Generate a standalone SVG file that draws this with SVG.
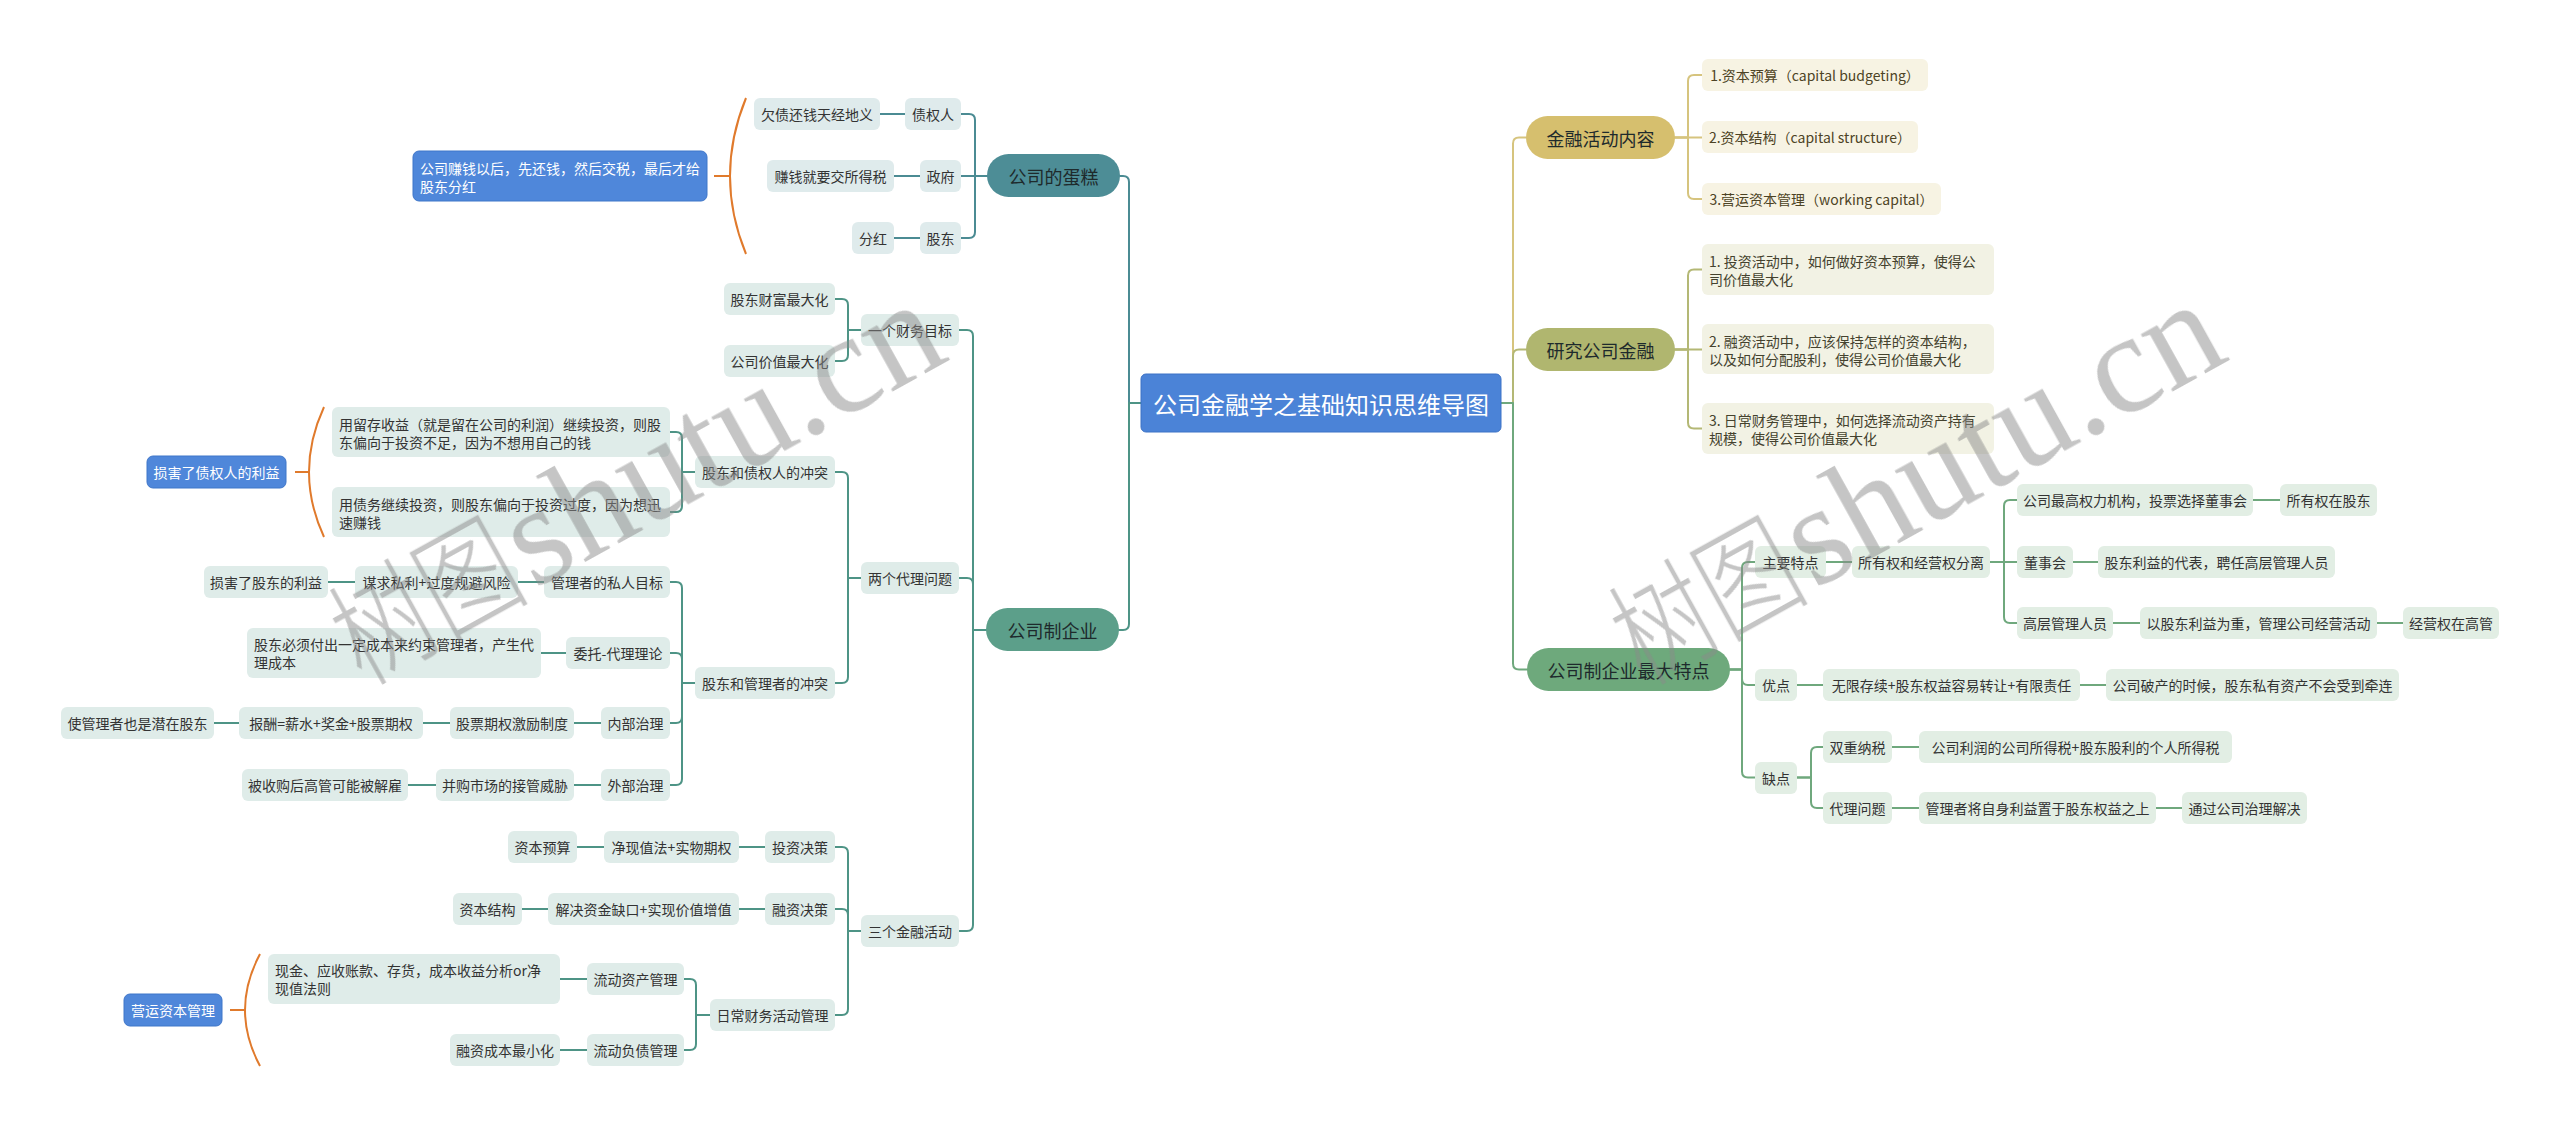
<svg xmlns="http://www.w3.org/2000/svg" width="2560" height="1126" viewBox="0 0 2560 1126">
<style>
text{font-family:"Noto Sans CJK SC","Microsoft YaHei",sans-serif;font-size:14px;fill:#333;text-anchor:middle;dominant-baseline:central}
.tl{text-anchor:start}
.l1{font-size:18px;fill:#1e2a2c}
.rt{font-size:24px;fill:#fff}
.wt{fill:#fff}
.c{fill:none;stroke-width:2;stroke-linecap:round;stroke-linejoin:round}
.ct{stroke:#4b8b93}.cg{stroke:#4e9486}.cy{stroke:#d6c47e}.co{stroke:#b4b875}.cn{stroke:#6fa87d}
.br{fill:none;stroke:#e07a2c;stroke-width:2}
.bt{fill:#dfebec}.bg{fill:#dfece9}.by{fill:#f7f3e3}.bo{fill:#f2f2e4}.bn{fill:#e2eee4}
.blue{fill:#4f87da;stroke:#3f76c9;stroke-width:1}
.wm{fill:#8a8a8a;text-anchor:start;dominant-baseline:auto}
.wc{font-family:"Noto Sans CJK SC",sans-serif;font-size:118px;font-weight:300}
.we{font-family:"Liberation Serif",serif;font-size:142px}
</style>
<rect width="2560" height="1126" fill="#fff"/>
<g id="connectors">
<g class="c ct">
<path d="M1120 176 H1123 Q1129 176 1129 182 V403 H1141"/>
<path d="M961 114 H969 Q975 114 975 120 V176 H987"/>
<path d="M961 176 H987"/>
<path d="M961 238 H969 Q975 238 975 232 V176 H987"/>
<path d="M880 114 H905 M894 176 H920 M894 238 H920"/>
</g>
<g class="c cg">
<path d="M1119 630 H1123 Q1129 630 1129 624 V403 H1141"/>
<path d="M959 330 H967 Q973 330 973 336 V630 H986"/>
<path d="M959 578 H967 Q973 578 973 584 V630 H986"/>
<path d="M959 931 H967 Q973 931 973 925 V630 H986"/>
<path d="M835 299 H842 Q848 299 848 305 V330 H861"/>
<path d="M835 361 H842 Q848 361 848 355 V330 H861"/>
<path d="M835 472 H842 Q848 472 848 478 V578 H861"/>
<path d="M835 683 H842 Q848 683 848 677 V578 H861"/>
<path d="M670 432 H676 Q682 432 682 438 V472 H695"/>
<path d="M670 512 H676 Q682 512 682 506 V472 H695"/>
<path d="M670 582 H676 Q682 582 682 588 V683 H695"/>
<path d="M670 653 H676 Q682 653 682 659 V683 H695"/>
<path d="M670 723 H676 Q682 723 682 717 V683 H695"/>
<path d="M670 785 H676 Q682 785 682 779 V683 H695"/>
<path d="M835 847 H842 Q848 847 848 853 V931 H861"/>
<path d="M835 909 H842 Q848 909 848 915 V931 H861"/>
<path d="M835 1015 H842 Q848 1015 848 1009 V931 H861"/>
<path d="M684 979 H690 Q696 979 696 985 V1015 H710"/>
<path d="M684 1050 H690 Q696 1050 696 1044 V1015 H710"/>
<path d="M328 582 H355 M518 582 H544 M541 653 H566 M214 723 H239 M423 723 H450 M574 723 H601 M408 785 H436 M574 785 H601 M577 847 H604 M739 847 H765 M522 909 H548 M739 909 H765 M560 979 H587 M560 1050 H587"/>
</g>
<g class="c cy">
<path d="M1501 403 H1513 V143.5 Q1513 137.5 1519 137.5 H1526"/>
<path d="M1675 137.5 H1688 V81 Q1688 75 1694 75 H1702"/>
<path d="M1675 137.5 H1702"/>
<path d="M1675 137.5 H1688 V193 Q1688 199 1694 199 H1702"/>
</g>
<g class="c co">
<path d="M1501 403 H1513 V355.5 Q1513 349.5 1519 349.5 H1526"/>
<path d="M1675 349.5 H1688 V275.5 Q1688 269.5 1694 269.5 H1702"/>
<path d="M1675 349.5 H1702"/>
<path d="M1675 349.5 H1688 V422.5 Q1688 428.5 1694 428.5 H1702"/>
</g>
<g class="c cn">
<path d="M1501 403 H1513 V663.5 Q1513 669.5 1519 669.5 H1527"/>
<path d="M1730 669.5 H1742 V568 Q1742 562 1748 562 H1755"/>
<path d="M1730 669.5 H1742 V679 Q1742 685 1748 685 H1755"/>
<path d="M1730 669.5 H1742 V771.5 Q1742 777.5 1748 777.5 H1755"/>
<path d="M1990 562 H2004 V506 Q2004 500 2010 500 H2017"/>
<path d="M1990 562 H2017"/>
<path d="M1990 562 H2004 V617 Q2004 623 2010 623 H2017"/>
<path d="M1797 777.5 H1811 V753 Q1811 747 1817 747 H1823"/>
<path d="M1797 777.5 H1811 V802 Q1811 808 1817 808 H1823"/>
<path d="M1826 562 H1852 M2253 500 H2280 M2073 562 H2098 M2113 623 H2140 M2377 623 H2403 M1797 685 H1823 M2080 685 H2106 M1892 747 H1919 M1892 808 H1919 M2156 808 H2182"/>
</g>
<g>
<path class="br" d="M746 98 Q714 176 746 254 M714 176 H730"/>
<path class="br" d="M324 407 Q294 472 324 537 M295 472 H309"/>
<path class="br" d="M260 954 Q230 1010 260 1066 M230 1010 H245"/>
</g>
</g>

<g id="root"><rect x="1141" y="374" width="360" height="58" rx="5" fill="#4b83d7" stroke="#3d72c6"/><text class="rt" x="1321" y="403">公司金融学之基础知识思维导图</text></g>

<g id="n-dangao"><rect x="987" y="154" width="133" height="43" rx="21.5" fill="#4d8d96"/><text class="l1" x="1053.5" y="175.5">公司的蛋糕</text></g>
<g id="n-zqr"><rect class="bt" x="905" y="98" width="56" height="32" rx="6"/><text x="933" y="114">债权人</text></g>
<g id="n-zf"><rect class="bt" x="920" y="160" width="41" height="32" rx="6"/><text x="940.5" y="176">政府</text></g>
<g id="n-gd"><rect class="bt" x="920" y="222" width="41" height="32" rx="6"/><text x="940.5" y="238">股东</text></g>
<g id="n-qz"><rect class="bt" x="754" y="98" width="126" height="32" rx="6"/><text x="817" y="114">欠债还钱天经地义</text></g>
<g id="n-zq"><rect class="bt" x="767" y="160" width="127" height="32" rx="6"/><text x="830.5" y="176">赚钱就要交所得税</text></g>
<g id="n-fh"><rect class="bt" x="852" y="222" width="42" height="32" rx="6"/><text x="873" y="238">分红</text></g>
<g id="n-note1"><rect class="blue" x="413" y="151" width="294" height="50" rx="6"/><text class="wt tl" x="420" y="168">公司赚钱以后，先还钱，然后交税，最后才给</text><text class="wt tl" x="420" y="186">股东分红</text></g>

<g id="n-gszqy"><rect x="986" y="608" width="133" height="43" rx="21.5" fill="#5c9f8a"/><text class="l1" x="1052.5" y="629.5">公司制企业</text></g>
<g id="n-cwmb"><rect class="bg" x="861" y="314" width="98" height="32" rx="6"/><text x="910" y="330">一个财务目标</text></g>
<g id="n-dlwt"><rect class="bg" x="861" y="562" width="98" height="32" rx="6"/><text x="910" y="578">两个代理问题</text></g>
<g id="n-jrhd"><rect class="bg" x="861" y="915" width="98" height="32" rx="6"/><text x="910" y="931">三个金融活动</text></g>
<g id="n-gdcf"><rect class="bg" x="724" y="283" width="111" height="32" rx="6"/><text x="779.5" y="299">股东财富最大化</text></g>
<g id="n-gsjz"><rect class="bg" x="724" y="345" width="111" height="32" rx="6"/><text x="779.5" y="361">公司价值最大化</text></g>
<g id="n-zqct"><rect class="bg" x="695" y="456" width="140" height="32" rx="6"/><text x="765" y="472">股东和债权人的冲突</text></g>
<g id="n-glct"><rect class="bg" x="695" y="667" width="140" height="32" rx="6"/><text x="765" y="683">股东和管理者的冲突</text></g>
<g id="n-lc"><rect class="bg" x="332" y="407" width="338" height="50" rx="6"/><text class="tl" x="339" y="423.5">用留存收益（就是留在公司的利润）继续投资，则股</text><text class="tl" x="339" y="441.5">东偏向于投资不足，因为不想用自己的钱</text></g>
<g id="n-zw"><rect class="bg" x="332" y="487" width="338" height="50" rx="6"/><text class="tl" x="339" y="503.5">用债务继续投资，则股东偏向于投资过度，因为想迅</text><text class="tl" x="339" y="521.5">速赚钱</text></g>
<g id="n-note2"><rect class="blue" x="147" y="456" width="139" height="32" rx="6"/><text class="wt" x="216.5" y="472">损害了债权人的利益</text></g>
<g id="n-srmb"><rect class="bg" x="544" y="566" width="126" height="32" rx="6"/><text x="607" y="582">管理者的私人目标</text></g>
<g id="n-mq"><rect class="bg" x="355" y="566" width="163" height="32" rx="6"/><text x="436.5" y="582">谋求私利+过度规避风险</text></g>
<g id="n-shgd"><rect class="bg" x="204" y="566" width="124" height="32" rx="6"/><text x="266" y="582">损害了股东的利益</text></g>
<g id="n-wt"><rect class="bg" x="566" y="637" width="104" height="32" rx="6"/><text x="618" y="653">委托-代理理论</text></g>
<g id="n-cb"><rect class="bg" x="247" y="628" width="294" height="50" rx="6"/><text class="tl" x="254" y="644">股东必须付出一定成本来约束管理者，产生代</text><text class="tl" x="254" y="662">理成本</text></g>
<g id="n-nbzl"><rect class="bg" x="601" y="707" width="69" height="32" rx="6"/><text x="635.5" y="723">内部治理</text></g>
<g id="n-gpqq"><rect class="bg" x="450" y="707" width="124" height="32" rx="6"/><text x="512" y="723">股票期权激励制度</text></g>
<g id="n-bc"><rect class="bg" x="239" y="707" width="184" height="32" rx="6"/><text x="331" y="723">报酬=薪水+奖金+股票期权</text></g>
<g id="n-qzgd"><rect class="bg" x="61" y="707" width="153" height="32" rx="6"/><text x="137.5" y="723">使管理者也是潜在股东</text></g>
<g id="n-wbzl"><rect class="bg" x="601" y="769" width="69" height="32" rx="6"/><text x="635.5" y="785">外部治理</text></g>
<g id="n-bg"><rect class="bg" x="436" y="769" width="138" height="32" rx="6"/><text x="505" y="785">并购市场的接管威胁</text></g>
<g id="n-jg"><rect class="bg" x="242" y="769" width="166" height="32" rx="6"/><text x="325" y="785">被收购后高管可能被解雇</text></g>
<g id="n-tzjc"><rect class="bg" x="765" y="831" width="70" height="32" rx="6"/><text x="800" y="847">投资决策</text></g>
<g id="n-jxz"><rect class="bg" x="604" y="831" width="135" height="32" rx="6"/><text x="671.5" y="847">净现值法+实物期权</text></g>
<g id="n-zbys"><rect class="bg" x="508" y="831" width="69" height="32" rx="6"/><text x="542.5" y="847">资本预算</text></g>
<g id="n-rzjc"><rect class="bg" x="765" y="893" width="70" height="32" rx="6"/><text x="800" y="909">融资决策</text></g>
<g id="n-jj"><rect class="bg" x="548" y="893" width="191" height="32" rx="6"/><text x="643.5" y="909">解决资金缺口+实现价值增值</text></g>
<g id="n-zbjg"><rect class="bg" x="453" y="893" width="69" height="32" rx="6"/><text x="487.5" y="909">资本结构</text></g>
<g id="n-rc"><rect class="bg" x="710" y="999" width="125" height="32" rx="6"/><text x="772.5" y="1015">日常财务活动管理</text></g>
<g id="n-ldzc"><rect class="bg" x="587" y="963" width="97" height="32" rx="6"/><text x="635.5" y="979">流动资产管理</text></g>
<g id="n-xj"><rect class="bg" x="268" y="954" width="292" height="50" rx="6"/><text class="tl" x="275" y="970">现金、应收账款、存货，成本收益分析or净</text><text class="tl" x="275" y="988">现值法则</text></g>
<g id="n-ldfz"><rect class="bg" x="587" y="1034" width="97" height="32" rx="6"/><text x="635.5" y="1050">流动负债管理</text></g>
<g id="n-rzcb"><rect class="bg" x="450" y="1034" width="110" height="32" rx="6"/><text x="505" y="1050">融资成本最小化</text></g>
<g id="n-note3"><rect class="blue" x="124" y="994" width="98" height="32" rx="6"/><text class="wt" x="173" y="1010">营运资本管理</text></g>

<g id="n-jrnr"><rect x="1526" y="116" width="149" height="43" rx="21.5" fill="#d6bf6e"/><text class="l1" x="1600.5" y="137.5">金融活动内容</text></g>
<g id="n-y1"><rect class="by" x="1702" y="59" width="226" height="32" rx="6"/><text x="1815" y="75" style="fill:#4d4325">1.资本预算（capital budgeting）</text></g>
<g id="n-y2"><rect class="by" x="1702" y="121" width="216" height="32" rx="6"/><text x="1810" y="137" style="fill:#4d4325">2.资本结构（capital structure）</text></g>
<g id="n-y3"><rect class="by" x="1702" y="183" width="239" height="32" rx="6"/><text x="1821.5" y="199" style="fill:#4d4325">3.营运资本管理（working capital）</text></g>
<g id="n-yjgs"><rect x="1526" y="328" width="149" height="43" rx="21.5" fill="#b0b66f"/><text class="l1" x="1600.5" y="349.5">研究公司金融</text></g>
<g id="n-o1"><rect class="bo" x="1702" y="244" width="292" height="51" rx="6"/><text class="tl" x="1709" y="261" style="fill:#44422e">1. 投资活动中，如何做好资本预算，使得公</text><text class="tl" x="1709" y="279" style="fill:#44422e">司价值最大化</text></g>
<g id="n-o2"><rect class="bo" x="1702" y="324" width="292" height="50" rx="6"/><text class="tl" x="1709" y="340.5" style="fill:#44422e">2. 融资活动中，应该保持怎样的资本结构，</text><text class="tl" x="1709" y="358.5" style="fill:#44422e">以及如何分配股利，使得公司价值最大化</text></g>
<g id="n-o3"><rect class="bo" x="1702" y="403" width="292" height="51" rx="6"/><text class="tl" x="1709" y="420" style="fill:#44422e">3. 日常财务管理中，如何选择流动资产持有</text><text class="tl" x="1709" y="438" style="fill:#44422e">规模，使得公司价值最大化</text></g>

<g id="n-tedian"><rect x="1527" y="648" width="203" height="43" rx="21.5" fill="#6ea97c"/><text class="l1" x="1628.5" y="669.5">公司制企业最大特点</text></g>
<g id="n-zytd"><rect class="bn" x="1755" y="546" width="71" height="32" rx="6"/><text x="1790.5" y="562">主要特点</text></g>
<g id="n-syq"><rect class="bn" x="1852" y="546" width="138" height="32" rx="6"/><text x="1921" y="562">所有权和经营权分离</text></g>
<g id="n-zg"><rect class="bn" x="2017" y="484" width="236" height="32" rx="6"/><text x="2135" y="500">公司最高权力机构，投票选择董事会</text></g>
<g id="n-syqgd"><rect class="bn" x="2280" y="484" width="97" height="32" rx="6"/><text x="2328.5" y="500">所有权在股东</text></g>
<g id="n-dsh"><rect class="bn" x="2017" y="546" width="56" height="32" rx="6"/><text x="2045" y="562">董事会</text></g>
<g id="n-db"><rect class="bn" x="2098" y="546" width="237" height="32" rx="6"/><text x="2216.5" y="562">股东利益的代表，聘任高层管理人员</text></g>
<g id="n-gc"><rect class="bn" x="2017" y="607" width="96" height="32" rx="6"/><text x="2065" y="623">高层管理人员</text></g>
<g id="n-yg"><rect class="bn" x="2140" y="607" width="237" height="32" rx="6"/><text x="2258.5" y="623">以股东利益为重，管理公司经营活动</text></g>
<g id="n-jyq"><rect class="bn" x="2403" y="607" width="96" height="32" rx="6"/><text x="2451" y="623">经营权在高管</text></g>
<g id="n-yd"><rect class="bn" x="1755" y="669" width="42" height="32" rx="6"/><text x="1776" y="685">优点</text></g>
<g id="n-wx"><rect class="bn" x="1823" y="669" width="257" height="32" rx="6"/><text x="1951.5" y="685">无限存续+股东权益容易转让+有限责任</text></g>
<g id="n-pc"><rect class="bn" x="2106" y="669" width="293" height="32" rx="6"/><text x="2252.5" y="685">公司破产的时候，股东私有资产不会受到牵连</text></g>
<g id="n-qd"><rect class="bn" x="1755" y="762" width="42" height="32" rx="6"/><text x="1776" y="778">缺点</text></g>
<g id="n-scns"><rect class="bn" x="1823" y="731" width="69" height="32" rx="6"/><text x="1857.5" y="747">双重纳税</text></g>
<g id="n-sds"><rect class="bn" x="1919" y="731" width="313" height="32" rx="6"/><text x="2075.5" y="747">公司利润的公司所得税+股东股利的个人所得税</text></g>
<g id="n-dl"><rect class="bn" x="1823" y="792" width="69" height="32" rx="6"/><text x="1857.5" y="808">代理问题</text></g>
<g id="n-zs"><rect class="bn" x="1919" y="792" width="237" height="32" rx="6"/><text x="2037.5" y="808">管理者将自身利益置于股东权益之上</text></g>
<g id="n-zl"><rect class="bn" x="2182" y="792" width="125" height="32" rx="6"/><text x="2244.5" y="808">通过公司治理解决</text></g>

<g id="watermark" opacity="0.5">
<g transform="translate(356,689) rotate(-29)"><text class="wm wc" x="8" y="0" textLength="192" lengthAdjust="spacingAndGlyphs">树图</text><text class="wm we" x="204" y="0">shutu.cn</text></g>
<g transform="translate(1636,689) rotate(-29)"><text class="wm wc" x="8" y="0" textLength="192" lengthAdjust="spacingAndGlyphs">树图</text><text class="wm we" x="204" y="0">shutu.cn</text></g>
</g>
</svg>
